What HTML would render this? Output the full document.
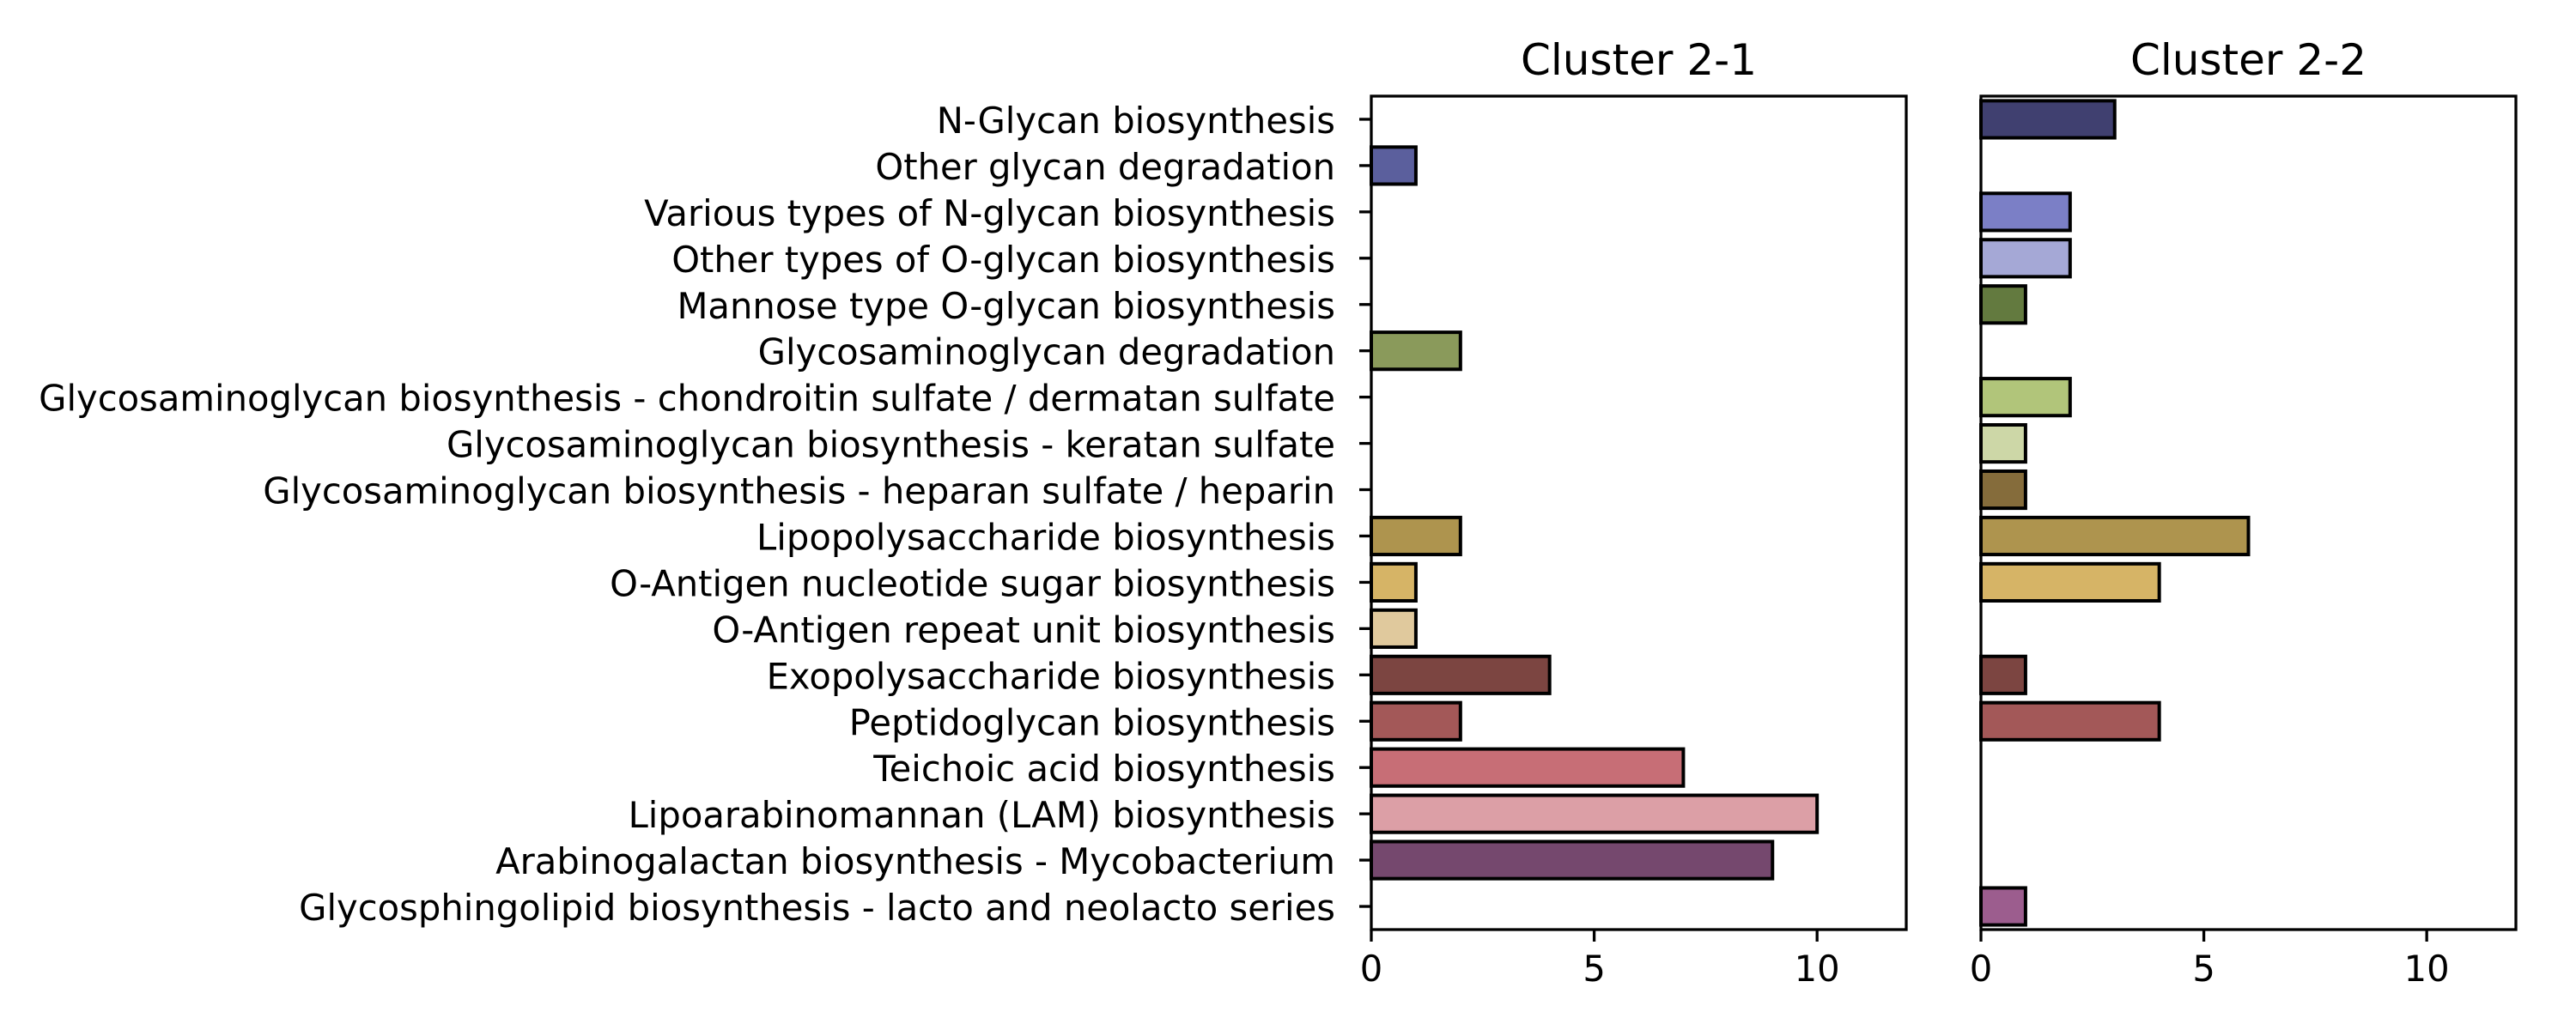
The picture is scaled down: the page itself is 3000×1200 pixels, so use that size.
<!DOCTYPE html>
<html><head><meta charset="utf-8"><style>
html,body{margin:0;padding:0;background:#fff;}
svg{display:block;font-family:"DejaVu Sans","Liberation Sans",sans-serif;}
</style></head><body>
<svg id="chart" width="3000" height="1200" viewBox="0 0 3000 1200" xmlns="http://www.w3.org/2000/svg"></svg>
<script>
const categories = ["N-Glycan biosynthesis","Other glycan degradation","Various types of N-glycan biosynthesis","Other types of O-glycan biosynthesis","Mannose type O-glycan biosynthesis","Glycosaminoglycan degradation","Glycosaminoglycan biosynthesis - chondroitin sulfate / dermatan sulfate","Glycosaminoglycan biosynthesis - keratan sulfate","Glycosaminoglycan biosynthesis - heparan sulfate / heparin","Lipopolysaccharide biosynthesis","O-Antigen nucleotide sugar biosynthesis","O-Antigen repeat unit biosynthesis","Exopolysaccharide biosynthesis","Peptidoglycan biosynthesis","Teichoic acid biosynthesis","Lipoarabinomannan (LAM) biosynthesis","Arabinogalactan biosynthesis - Mycobacterium","Glycosphingolipid biosynthesis - lacto and neolacto series"];
const cluster21 = [0,1,0,0,0,2,0,0,0,2,1,1,4,2,7,10,9,0];
const cluster22 = [3,0,2,2,1,0,2,1,1,6,4,0,1,4,0,0,0,1];
const panelTitles = ["Cluster 2-1","Cluster 2-2"];
const xTicks = [0,5,10];
const colors = ["#404070","#5b5f9d","#7b7fc6","#a5a8d6","#637a3f","#8a9a5b","#b1c57a","#cdd7a7","#856c3b","#ae944e","#d6b466","#e0c99d","#7c4541","#a35858","#c76e76","#dc9fa6","#75486e","#9c5d8e"];

const NS="http://www.w3.org/2000/svg";
const svg=document.getElementById('chart');
function mk(tag,attrs,parent){const e=document.createElementNS(NS,tag);for(const k in attrs)e.setAttribute(k,attrs[k]);(parent||svg).appendChild(e);return e;}
const top_=112,bot=1083,xmax=12,axW=623;
const panelsX=[1597,2307];
function yScale(i){return top_+(i+0.5)*(bot-top_)/categories.length;}
const band=(bot-top_)/categories.length;

[cluster21,cluster22].forEach((vals,p)=>{
  const x0=panelsX[p];
  const xs=v=>x0+v*axW/xmax;
  const g=mk('g',{});
  
  
  vals.forEach((v,i)=>{
    if(v<=0)return;
    const r=mk('rect',{x:xs(0),y:yScale(i)-band*0.4,width:xs(v)-xs(0),height:band*0.8,fill:colors[i],stroke:'#000','stroke-width':4},g);
    
    
  });
  const fr=mk('rect',{x:x0,y:top_,width:axW,height:bot-top_,fill:'none',stroke:'#000','stroke-width':3.3},g);
  
  
  const t=mk('text',{x:x0+axW/2,y:87,'text-anchor':'middle','font-size':50},g);
  t.textContent=panelTitles[p];
  
  
  xTicks.forEach(v=>{
    mk('line',{x1:xs(v),x2:xs(v),y1:bot,y2:bot+14,stroke:'#000','stroke-width':3.3},g);
    const tl=mk('text',{x:xs(v),y:1143,'text-anchor':'middle','font-size':41.7},g);
    tl.textContent=v;
    
    
  });
  if(p===0){
    categories.forEach((c,i)=>{
      mk('line',{x1:x0-14,x2:x0,y1:yScale(i),y2:yScale(i),stroke:'#000','stroke-width':3.3},g);
      const yl=mk('text',{x:x0-42,y:yScale(i)+16,'text-anchor':'end','font-size':41.7},g);
      yl.textContent=c;
      
      
    });
  }
});
</script>
</body></html>
